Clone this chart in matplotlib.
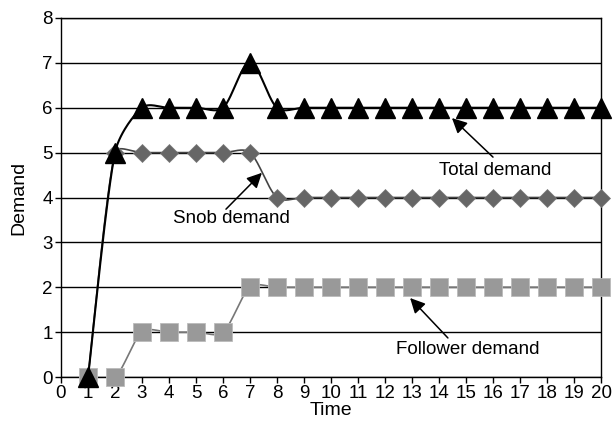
import numpy as np
import matplotlib
matplotlib.use("Agg")
import matplotlib.pyplot as plt

plt.rcParams['font.family'] = ['Liberation Sans', 'DejaVu Sans']

# data
time = list(range(1, 21))
total_demand = [0, 5, 6, 6, 6, 6, 7, 6, 6, 6, 6, 6, 6, 6, 6, 6, 6, 6, 6, 6]
snob_demand = [0, 5, 5, 5, 5, 5, 5, 4, 4, 4, 4, 4, 4, 4, 4, 4, 4, 4, 4, 4]
follower_demand = [0, 0, 1, 1, 1, 1, 2, 2, 2, 2, 2, 2, 2, 2, 2, 2, 2, 2, 2, 2]
x_ticks = list(range(0, 21))
y_ticks = list(range(0, 9))

# pixel size of one data unit, so the smoothing is done in screen space
PX_X = 540 / 20.0
PX_Y = 359 / 8.0


def smooth(xs, ys, steps=30):
    # smoothed line: bezier segments, control arms kept short to limit overshoot
    p = np.column_stack([np.array(xs) * PX_X, np.array(ys) * PX_Y]).astype(float)
    n = len(p)
    tang = []
    span = []
    for i in range(n):
        d = p[min(i + 1, n - 1)] - p[max(i - 1, 0)]
        nd = np.hypot(*d)
        tang.append(d / nd if nd > 0 else d)
        span.append(nd)
    out = []
    for i in range(n - 1):
        p1, p2 = p[i], p[i + 1]
        seg_len = np.hypot(*(p2 - p1))
        a1 = min(seg_len / 3.0, span[i] / 6.0)
        a2 = min(seg_len / 3.0, span[i + 1] / 6.0)
        c1 = p1 + tang[i] * a1
        c2 = p2 - tang[i + 1] * a2
        t = np.linspace(0, 1, steps)[:, None]
        seg = ((1 - t) ** 3) * p1 + 3 * ((1 - t) ** 2) * t * c1 + 3 * (1 - t) * t ** 2 * c2 + t ** 3 * p2
        out.append(seg if i == 0 else seg[1:])
    out = np.vstack(out)
    return out[:, 0] / PX_X, out[:, 1] / PX_Y


fig = plt.figure(figsize=(6.16, 4.29), dpi=100)
ax = fig.add_axes([61 / 616, 1 - 377 / 429, 540 / 616, 359 / 429])

for y in y_ticks:
    ax.axhline(y, color='black', lw=1.0, zorder=1)

# snob demand
sx, sy = smooth(time, snob_demand)
ax.plot(sx, sy, color='#444444', lw=1.2, zorder=2)
ax.plot(time, snob_demand, linestyle='none', marker='D', ms=9.2,
        color='#666666', mec='#777777', mew=0.5, zorder=3, clip_on=False)

# follower demand
fx, fy = smooth(time, follower_demand)
ax.plot(fx, fy, color='#777777', lw=1.2, zorder=2)
ax.plot(time, follower_demand, linestyle='none', marker='s', ms=13.4,
        color='#999999', mec='#bbbbbb', mew=0.6, zorder=4, clip_on=False)

# total demand
tx, ty = smooth(time, total_demand)
ax.plot(tx, ty, color='black', lw=1.5, zorder=5)
ax.plot(time, total_demand, linestyle='none', marker='^', ms=14,
        color='black', zorder=6, clip_on=False)

arrow = dict(arrowstyle='-|>,head_length=0.6,head_width=0.3', mutation_scale=15,
             color='black', lw=1.1, shrinkA=0, shrinkB=0)
ax.annotate('', xy=(14.48, 5.77), xytext=(16.0, 4.90), arrowprops=arrow, zorder=7)
ax.text(16.07, 4.61, 'Total demand', ha='center', va='center', fontsize=13.5)
ax.annotate('', xy=(7.44, 4.55), xytext=(6.11, 3.74), arrowprops=arrow, zorder=7)
ax.text(6.33, 3.54, 'Snob demand', ha='center', va='center', fontsize=13.5)
ax.annotate('', xy=(12.93, 1.76), xytext=(14.33, 0.87), arrowprops=arrow, zorder=7)
ax.text(15.07, 0.62, 'Follower demand', ha='center', va='center', fontsize=13.5)

ax.set_xlim(0, 20)
ax.set_ylim(0, 8)
ax.set_xticks(x_ticks)
ax.set_yticks(y_ticks)
ax.tick_params(direction='out', length=4, width=1, labelsize=13.5, pad=2, colors='black')
for s in ax.spines.values():
    s.set_color('black')
    s.set_linewidth(1.0)
ax.set_xlabel('Time', fontsize=14, labelpad=0)
ax.set_ylabel('Demand', fontsize=14, labelpad=11)

fig.savefig('out.png', dpi=100)
